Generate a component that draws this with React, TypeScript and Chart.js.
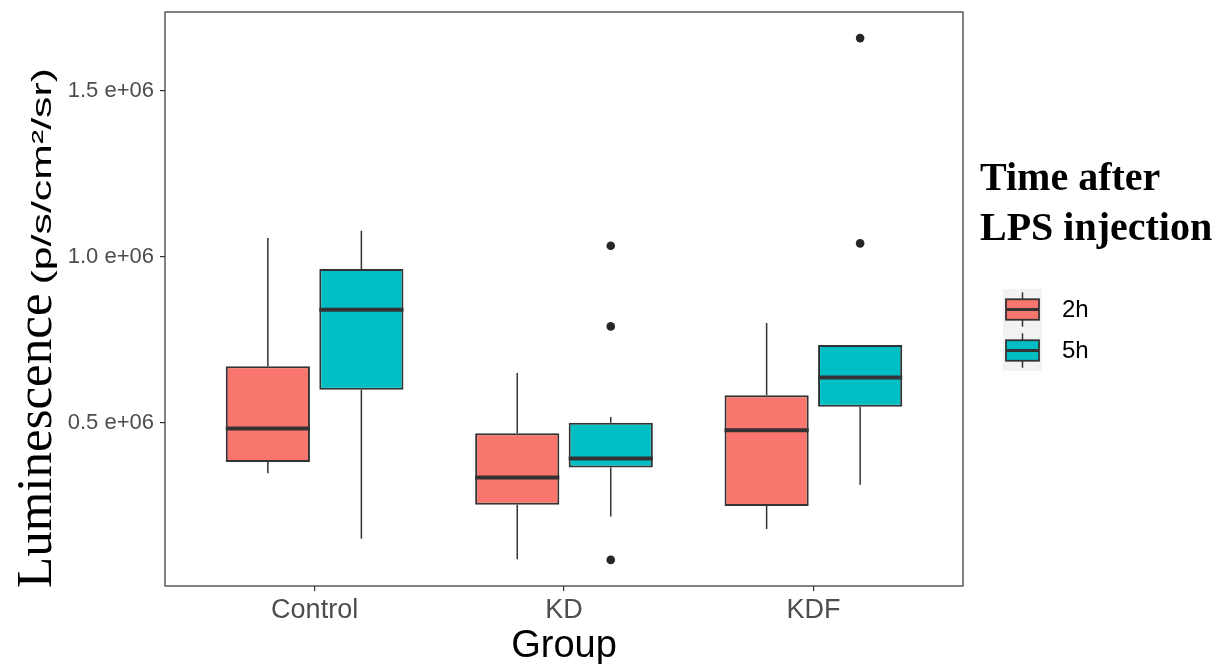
import React, { useEffect, useRef } from 'react';
import { Chart, registerables } from 'chart.js';

Chart.register(...registerables);

// ---------------- data ----------------
const GROUPS = ['Control', 'KD', 'KDF'];
const SERIES = ['2h', '5h'];
const COLORS = ['#F8766D', '#00BFC4'];

// 2h boxplot statistics
const LOW_2H = [348000, 89000, 180000];
const Q1_2H = [382000, 253000, 249000];
const MED_2H = [483000, 335000, 477000];
const Q3_2H = [670000, 468000, 583000];
const HIGH_2H = [1056000, 650000, 800000];
const OUTLIERS_2H: number[][] = [[], [], []];

// 5h boxplot statistics
const LOW_5H = [151000, 218000, 313000];
const Q1_5H = [599000, 365000, 548000];
const MED_5H = [840000, 392000, 636000];
const Q3_5H = [963000, 500000, 734000];
const HIGH_5H = [1078000, 517000, 734000];
const OUTLIERS_5H: number[][] = [[], [1033000, 790000, 87000], [1658000, 1040000]];

const Y_TICKS = [500000, 1000000, 1500000];
const Y_TICK_LABELS = ['0.5 e+06', '1.0 e+06', '1.5 e+06'];

const Y_TITLE_MAIN = 'Luminescence';
const Y_TITLE_UNIT = '(p/s/cm²/sr)';
const X_TITLE = 'Group';
const LEGEND_TITLE = ['Time after', 'LPS injection'];

const STATS = [
  { low: LOW_2H, q1: Q1_2H, med: MED_2H, q3: Q3_2H, high: HIGH_2H, out: OUTLIERS_2H },
  { low: LOW_5H, q1: Q1_5H, med: MED_5H, q3: Q3_5H, high: HIGH_5H, out: OUTLIERS_5H },
];

// ---------------- layout constants ----------------
const W = 1223;
const H = 664;
const DODGE = 0.75;
const SANS = '"Liberation Sans", Arial, Helvetica, sans-serif';
const SERIF = '"Liberation Serif", "Times New Roman", Times, serif';
const INK = '#333333';

// y range with ggplot's 5% expansion
const allVals: number[] = [];
STATS.forEach((s) => {
  allVals.push(...s.low, ...s.high);
  s.out.forEach((o) => allVals.push(...o));
});
const yMinData = Math.min(...allVals);
const yMaxData = Math.max(...allVals);
const yPad = (yMaxData - yMinData) * 0.05;

const boxPlugin = {
  id: 'boxExtras',
  beforeDatasetsDraw(chart: any) {
    const ctx = chart.ctx;
    const ys = chart.scales.y;
    ctx.save();
    ctx.strokeStyle = INK;
    ctx.lineWidth = 1.5;
    STATS.forEach((s, di) => {
      const meta = chart.getDatasetMeta(di);
      meta.data.forEach((el: any, i: number) => {
        const x = el.x;
        ctx.beginPath();
        ctx.moveTo(x, ys.getPixelForValue(s.q3[i]));
        ctx.lineTo(x, ys.getPixelForValue(s.high[i]));
        ctx.moveTo(x, ys.getPixelForValue(s.q1[i]));
        ctx.lineTo(x, ys.getPixelForValue(s.low[i]));
        ctx.stroke();
      });
    });
    ctx.restore();
  },
  afterDatasetsDraw(chart: any) {
    const ctx = chart.ctx;
    const ys = chart.scales.y;
    ctx.save();
    ctx.strokeStyle = INK;
    ctx.lineWidth = 4;
    STATS.forEach((s, di) => {
      const meta = chart.getDatasetMeta(di);
      meta.data.forEach((el: any, i: number) => {
        const yy = ys.getPixelForValue(s.med[i]);
        ctx.beginPath();
        ctx.moveTo(el.x - el.width / 2, yy);
        ctx.lineTo(el.x + el.width / 2, yy);
        ctx.stroke();
      });
    });
    ctx.restore();
  },
  afterDraw(chart: any) {
    const ctx = chart.ctx;
    const a = chart.chartArea;
    ctx.save();
    // panel border
    ctx.strokeStyle = INK;
    ctx.lineWidth = 1.2;
    ctx.strokeRect(a.left, a.top, a.right - a.left, a.bottom - a.top);

    // y title (mixed fonts)
    ctx.save();
    ctx.translate(51, 588);
    ctx.rotate(-Math.PI / 2);
    ctx.fillStyle = '#000';
    ctx.textAlign = 'left';
    ctx.textBaseline = 'alphabetic';
    ctx.font = `51px ${SERIF}`;
    ctx.fillText(Y_TITLE_MAIN, 0, 0);
    const w1 = ctx.measureText(Y_TITLE_MAIN).width;
    const gap = 9;
    ctx.font = `27px ${SANS}`;
    const w2 = ctx.measureText(Y_TITLE_UNIT).width;
    const target = 520 - w1 - gap;
    const sx = target / w2;
    ctx.translate(w1 + gap, 0);
    ctx.scale(sx, 1);
    ctx.fillText(Y_TITLE_UNIT, 0, 0);
    ctx.restore();

    // x title
    ctx.fillStyle = '#000';
    ctx.font = `38px ${SANS}`;
    ctx.textAlign = 'center';
    ctx.textBaseline = 'alphabetic';
    ctx.fillText(X_TITLE, (a.left + a.right) / 2, 657);

    // legend title
    ctx.textAlign = 'left';
    ctx.font = `bold 40px ${SERIF}`;
    ctx.fillText(LEGEND_TITLE[0], 980, 190);
    ctx.fillText(LEGEND_TITLE[1], 980, 240);

    // legend keys
    const keyX = 1003;
    const keyW = 39;
    const keyH = 41;
    const keyY0 = 289;
    ctx.fillStyle = '#f2f2f2';
    ctx.fillRect(keyX, keyY0, keyW, keyH * SERIES.length);
    SERIES.forEach((name, i) => {
      const top = keyY0 + i * keyH;
      const cx = keyX + keyW / 2;
      ctx.strokeStyle = INK;
      ctx.lineWidth = 1.5;
      ctx.beginPath();
      ctx.moveTo(cx, top + keyH * 0.08);
      ctx.lineTo(cx, top + keyH * 0.92);
      ctx.stroke();
      const bx = keyX + 3;
      const bw = keyW - 6;
      const by = top + keyH * 0.25;
      const bh = keyH * 0.5;
      ctx.fillStyle = COLORS[i];
      ctx.fillRect(bx, by, bw, bh);
      ctx.lineWidth = 1.8;
      ctx.strokeRect(bx, by, bw, bh);
      ctx.lineWidth = 2.8;
      ctx.beginPath();
      ctx.moveTo(bx, top + keyH / 2);
      ctx.lineTo(bx + bw, top + keyH / 2);
      ctx.stroke();
      ctx.fillStyle = '#000';
      ctx.font = `24px ${SANS}`;
      ctx.textBaseline = 'middle';
      ctx.fillText(name, 1062, top + keyH / 2 + 1);
    });
    ctx.restore();
  },
};

export default function App() {
  const ref = useRef<HTMLCanvasElement | null>(null);

  useEffect(() => {
    if (!ref.current) return;
    const boxDatasets: any[] = STATS.map((s, si) => ({
      type: 'bar',
      label: SERIES[si],
      data: GROUPS.map((_, i) => ({ x: i + 1, y: [s.q1[i], s.q3[i]] })),
      backgroundColor: COLORS[si],
      borderColor: INK,
      borderWidth: 2,
      borderSkipped: false,
      categoryPercentage: DODGE,
      barPercentage: 0.9,
    }));
    const outlierDatasets: any[] = STATS.map((s, si) => {
      const offset = (si - (SERIES.length - 1) / 2) * (DODGE / SERIES.length);
      const pts: { x: number; y: number }[] = [];
      s.out.forEach((vals, i) => vals.forEach((v) => pts.push({ x: i + 1 + offset, y: v })));
      return {
        type: 'scatter',
        label: SERIES[si] + ' outliers',
        data: pts,
        backgroundColor: '#262626',
        borderColor: '#262626',
        pointRadius: 4.3,
        borderWidth: 0,
      };
    });

    const chart = new Chart(ref.current, {
      type: 'bar',
      data: { datasets: [...boxDatasets, ...outlierDatasets] },
      options: {
        responsive: false,
        animation: false,
        events: [],
        layout: { padding: { left: 0, right: 260, top: 12, bottom: 0 } },
        plugins: {
          legend: { display: false },
          tooltip: { enabled: false },
          title: { display: false },
        },
        scales: {
          x: {
            type: 'linear',
            min: 0.4,
            max: 3.6,
            offset: false,
            afterBuildTicks: (scale: any) => {
              scale.ticks = GROUPS.map((_, i) => ({ value: i + 1 }));
            },
            afterFit: (scale: any) => {
              scale.height = H - 586;
              scale.paddingLeft = 0;
              scale.paddingRight = 0;
            },
            ticks: {
              callback: (v: any) => GROUPS[Math.round(v) - 1] ?? '',
              color: '#4d4d4d',
              font: { family: SANS, size: 27 },
              padding: 3,
              maxRotation: 0,
              autoSkip: false,
            },
            grid: { drawOnChartArea: false, offset: false, color: INK, tickLength: 5, lineWidth: 1.2 },
            border: { display: false },
          },
          y: {
            type: 'linear',
            min: yMinData - yPad,
            max: yMaxData + yPad,
            afterBuildTicks: (scale: any) => {
              scale.ticks = Y_TICKS.map((v) => ({ value: v }));
            },
            afterFit: (scale: any) => {
              scale.width = 165;
              scale.paddingTop = 0;
              scale.paddingBottom = 0;
            },
            ticks: {
              callback: (v: any) => {
                const idx = Y_TICKS.indexOf(Number(v));
                return idx >= 0 ? Y_TICK_LABELS[idx] : '';
              },
              color: '#4d4d4d',
              font: { family: SANS, size: 22 },
              padding: 6,
            },
            grid: { drawOnChartArea: false, color: INK, tickLength: 5, lineWidth: 1.2 },
            border: { display: false },
          },
        },
      },
      plugins: [boxPlugin],
    } as any);
    return () => chart.destroy();
  }, []);

  return (
    <div style={{ position: 'fixed', left: 0, top: 0, width: W, height: H, background: '#fff' }}>
      <canvas ref={ref} width={W} height={H} style={{ width: W, height: H, display: 'block' }} />
    </div>
  );
}
